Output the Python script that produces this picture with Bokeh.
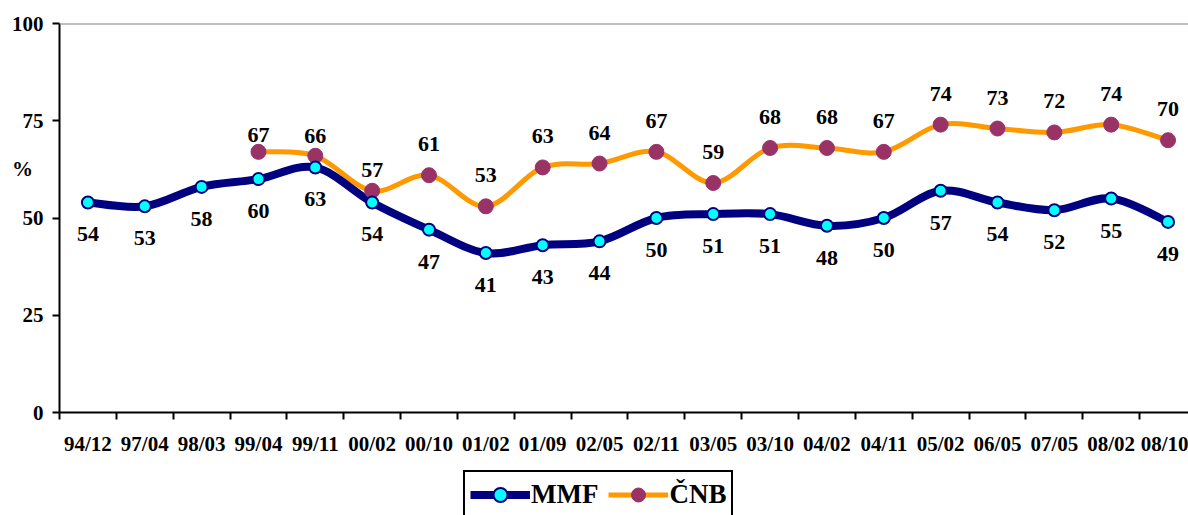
from bokeh.plotting import figure
from bokeh.layouts import column
from bokeh.models import (Range1d, LinearAxis, FixedTicker, Span, Legend,
                          LegendItem, ColumnDataSource)
from bokeh.core.properties import value
from bokeh.embed import file_html
from bokeh.resources import INLINE

# ---- data ----
categories = ["94/12", "97/04", "98/03", "99/04", "99/11", "00/02", "00/10", "01/02",
              "01/09", "02/05", "02/11", "03/05", "03/10", "04/02", "04/11", "05/02",
              "06/05", "07/05", "08/02", "08/10"]
mmf = [54, 53, 58, 60, 63, 54, 47, 41, 43, 44, 50, 51, 51, 48, 50, 57, 54, 52, 55, 49]
cnb_categories = categories[3:]
cnb = [67, 66, 57, 61, 53, 63, 64, 67, 59, 68, 68, 67, 74, 73, 72, 74, 70]
y_ticks = [0, 25, 50, 75, 100]
y_unit_label = "%"

# ---- style ----
FONT_NAME = "Liberation Serif"
FONT = value(FONT_NAME)
NAVY = "#000080"
CYAN = "#00FFFF"
ORANGE = "#FF9900"
PURPLE = "#993366"
cnb_label_lift = [17, 20, 21] + [31] * 14   # screen px above the point
unit_label_at = 62.7                          # vertical place of the "%" label

pos = {c: i + 0.5 for i, c in enumerate(categories)}
mmf_x = [pos[c] for c in categories]
cnb_x = [pos[c] for c in cnb_categories]


def smooth_source(xs, ys):
    n = len(xs)
    d = dict(x0=[], y0=[], x1=[], y1=[], cx0=[], cy0=[], cx1=[], cy1=[])
    for i in range(n - 1):
        a = i - 1 if i > 0 else i
        b = i + 2 if i + 2 < n else i + 1
        d["x0"].append(xs[i]); d["y0"].append(ys[i])
        d["x1"].append(xs[i + 1]); d["y1"].append(ys[i + 1])
        d["cx0"].append(xs[i] + (xs[i + 1] - xs[a]) / 6.0)
        d["cy0"].append(ys[i] + (ys[i + 1] - ys[a]) / 6.0)
        d["cx1"].append(xs[i + 1] - (xs[b] - xs[i]) / 6.0)
        d["cy1"].append(ys[i + 1] - (ys[b] - ys[i]) / 6.0)
    return ColumnDataSource(d)


p = figure(width=1188, height=462, x_range=Range1d(0, 19.86), y_range=Range1d(0, 100),
           output_backend="svg", toolbar_location=None,
           x_axis_location=None, y_axis_location=None,
           min_border_left=59, min_border_right=0, min_border_top=23, min_border_bottom=50)
p.outline_line_color = None
p.xgrid.visible = False
p.ygrid.visible = False
p.background_fill_color = "white"
p.border_fill_color = "white"

# y axis: tick marks as minor ticks, labels (incl. the "%" unit) as major labels
yaxis = LinearAxis(ticker=FixedTicker(ticks=y_ticks + [unit_label_at], minor_ticks=y_ticks))
overrides = {t: str(t) for t in y_ticks}
overrides[unit_label_at] = y_unit_label + "\u00a0\u00a0"
yaxis.major_label_overrides = overrides
yaxis.axis_line_color = "black"
yaxis.axis_line_width = 2
yaxis.major_tick_line_color = None
yaxis.major_tick_out = 7
yaxis.major_tick_in = 0
yaxis.minor_tick_line_color = "black"
yaxis.minor_tick_line_width = 2
yaxis.minor_tick_out = 7
yaxis.minor_tick_in = 0
yaxis.major_label_standoff = 9
yaxis.major_label_text_font = FONT_NAME
yaxis.major_label_text_font_style = "bold"
yaxis.major_label_text_font_size = "21px"
yaxis.major_label_text_color = "black"
p.add_layout(yaxis, "left")

# x axis: labels at category centres, tick marks at boundaries
xaxis = LinearAxis(ticker=FixedTicker(ticks=mmf_x,
                                      minor_ticks=[i for i in range(len(categories) + 1)]))
xaxis.major_label_overrides = {pos[c]: c for c in categories}
xaxis.axis_line_color = "black"
xaxis.axis_line_width = 2
xaxis.major_tick_line_color = None
xaxis.major_tick_out = 0
xaxis.major_tick_in = 0
xaxis.minor_tick_line_color = "black"
xaxis.minor_tick_line_width = 2
xaxis.minor_tick_out = 7
xaxis.minor_tick_in = 0
xaxis.major_label_standoff = 12
xaxis.major_label_text_font = FONT_NAME
xaxis.major_label_text_font_style = "bold"
xaxis.major_label_text_font_size = "21px"
xaxis.major_label_text_color = "black"
p.add_layout(xaxis, "below")

# top gray line
p.add_layout(Span(location=100, dimension="width", line_color="#808080", line_width=2))

# curves
p.bezier(x0="x0", y0="y0", x1="x1", y1="y1", cx0="cx0", cy0="cy0", cx1="cx1", cy1="cy1",
         source=smooth_source(cnb_x, cnb), line_color=ORANGE, line_width=5, line_cap="round")
p.bezier(x0="x0", y0="y0", x1="x1", y1="y1", cx0="cx0", cy0="cy0", cx1="cx1", cy1="cy1",
         source=smooth_source(mmf_x, mmf), line_color=NAVY, line_width=8, line_cap="round")

cnb_src = ColumnDataSource(dict(x=cnb_x, y=cnb, t=[str(v) for v in cnb],
                                off=[-v for v in cnb_label_lift]))
mmf_src = ColumnDataSource(dict(x=mmf_x, y=mmf, t=[str(v) for v in mmf],
                                off=[32] * len(mmf)))

p.scatter(x="x", y="y", source=cnb_src, size=15, fill_color=PURPLE,
          line_color=PURPLE, line_width=1)
p.scatter(x="x", y="y", source=mmf_src, size=12, fill_color=CYAN,
          line_color=NAVY, line_width=2)

for src in (cnb_src, mmf_src):
    p.text(x="x", y="y", text="t", source=src, y_offset="off", text_font=FONT,
           text_font_style="bold", text_font_size="22px", text_color="black",
           text_align="center", text_baseline="middle")

# ---- legend strip below the chart ----
q = figure(width=1188, height=53, x_range=Range1d(0, 1), y_range=Range1d(0, 1),
           output_backend="svg", toolbar_location=None,
           x_axis_location=None, y_axis_location=None, min_border=0)
q.outline_line_color = None
q.xgrid.visible = False
q.ygrid.visible = False
q.background_fill_color = "white"
q.border_fill_color = "white"

mmf_leg_line = q.line(x=mmf_x, y=mmf, line_color=NAVY, line_width=8, visible=False)
mmf_leg_pts = q.scatter(x=mmf_x, y=mmf, size=12, fill_color=CYAN, line_color=NAVY,
                        line_width=2, visible=False)
cnb_leg_line = q.line(x=cnb_x, y=cnb, line_color=ORANGE, line_width=5, visible=False)
cnb_leg_pts = q.scatter(x=cnb_x, y=cnb, size=15, fill_color=PURPLE, line_color=PURPLE,
                        line_width=1, visible=False)

legend = Legend(items=[LegendItem(label="MMF", renderers=[mmf_leg_line, mmf_leg_pts]),
                       LegendItem(label="ČNB", renderers=[cnb_leg_line, cnb_leg_pts])],
                orientation="horizontal", location=(404, -4))
legend.glyph_width = 60
legend.glyph_height = 35
legend.label_standoff = 1
legend.spacing = 10
legend.padding = 5
legend.margin = 0
legend.border_line_color = "black"
legend.border_line_alpha = 1
legend.border_line_width = 2
legend.background_fill_color = "white"
legend.background_fill_alpha = 1
legend.inactive_fill_alpha = 0
legend.label_text_font = FONT_NAME
legend.label_text_font_style = "bold"
legend.label_text_font_size = "27px"
legend.label_text_color = "black"
q.add_layout(legend, "center")

open("out.html", "w").write(file_html(column(p, q, spacing=0), INLINE))
